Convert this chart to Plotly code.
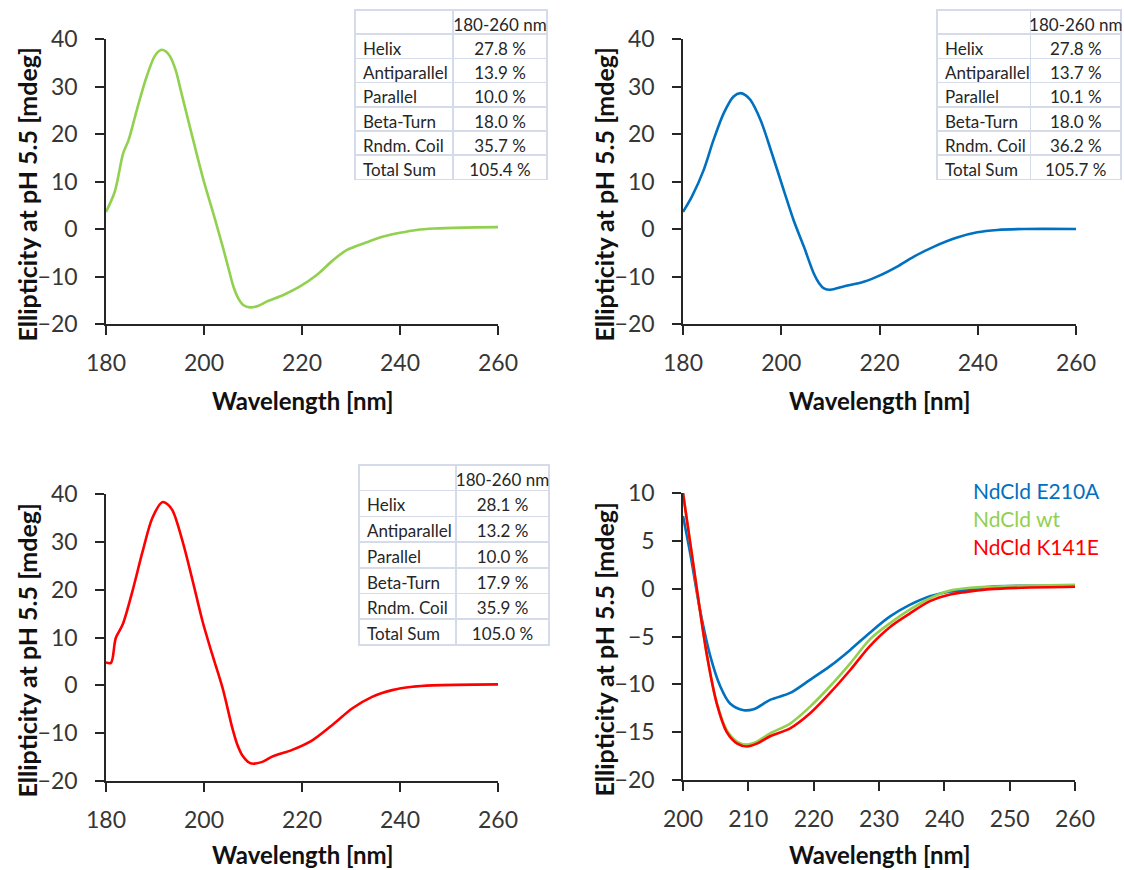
import plotly.graph_objects as go

# ---------------- data ----------------
# Panel 1: NdCld wt (green), 180-260 nm
wl_wt_full = [180, 181.8, 183.5, 184.6, 186.3, 188.3, 190, 191.2, 192.2, 193.1, 194.2, 195.4,
              197.8, 199.9, 201.9, 204, 205, 206, 207, 208, 209.4, 211, 212.8, 216.2, 219.6,
              223, 226.4, 229.2, 233.2, 236.6, 240, 243.4, 247, 253, 260]
cd_wt_full = [3.6, 7.9, 15.9, 18.7, 25.1, 32.1, 36.5, 37.7, 37.4, 36.3, 33.5, 28.6,
              18.7, 10.3, 3.3, -4.4, -8.3, -12.1, -14.6, -16.0, -16.5, -16.2, -15.3, -13.9, -12.1,
              -9.7, -6.5, -4.4, -2.8, -1.6, -0.8, -0.2, 0.1, 0.3, 0.4]

# Panel 2: NdCld E210A (blue), 180-260 nm
wl_e210a_full = [180, 181.8, 184.2, 186.2, 188.3, 190.3, 191.7, 192.7, 193.7, 195.8, 198.1, 200.5,
                 202.5, 204.6, 206.6, 207.7, 208.7, 210, 212.7, 216.8, 220.2, 223.6, 227, 231.1,
                 235.8, 239.9, 244, 249.4, 260]
cd_e210a_full = [3.6, 6.8, 12.4, 18.7, 24.4, 27.9, 28.6, 28.2, 27.2, 22.9, 15.9, 8.2,
                 1.9, -3.7, -9.3, -11.4, -12.5, -12.8, -12.1, -11.1, -9.7, -7.9, -5.8, -3.7,
                 -1.8, -0.7, -0.2, 0.0, 0.0]

# Panel 3: NdCld K141E (red), 180-260 nm
wl_k141e_full = [180, 181, 182, 183.4, 185.4, 187.5, 189.5, 191.5, 192.5, 193.6, 195.6, 197.7,
                 199.7, 201.7, 203.8, 205.8, 206.8, 207.8, 209.5, 211.9, 213.9, 218, 222.1, 226.2,
                 230.3, 234.3, 238.4, 242.5, 246.6, 260]
cd_k141e_full = [4.8, 4.7, 9.9, 12.7, 19.7, 28.1, 35.1, 38.3, 37.9, 36.5, 30.2, 21.8,
                 13.4, 6.4, -0.6, -9.0, -12.4, -14.6, -16.3, -16.0, -14.9, -13.5, -11.5, -8.3,
                 -4.8, -2.4, -1.0, -0.3, 0.0, 0.2]

# Panel 4: overlay 200-260 nm
wl_e210a_zoom = [200, 201.1, 202.6, 204.2, 205.7, 207.2, 209.3, 210.8, 213.4, 216.4, 219.5,
                 222.5, 225.6, 228.6, 231.7, 234.7, 237.8, 240.9, 243.9, 247, 252, 260]
cd_e210a_zoom = [7.6, 3.7, -2.2, -7.1, -10.2, -12.0, -12.7, -12.6, -11.6, -10.9, -9.5,
                 -8.1, -6.4, -4.6, -2.9, -1.7, -0.8, -0.3, -0.1, 0.2, 0.3, 0.3]
wl_wt_zoom = [200, 201.1, 203.7, 205.2, 206.7, 208.3, 209.8, 211.3, 213.4, 216.4, 219.5,
              222.5, 225.6, 228.6, 231.7, 234.7, 237.8, 240.9, 244, 247, 252, 260]
cd_wt_zoom = [10, 4.8, -7.1, -12.0, -14.8, -16.0, -16.3, -16.0, -15.1, -14.1, -12.3,
              -10.2, -7.8, -5.3, -3.6, -2.2, -1.0, -0.2, 0.1, 0.2, 0.3, 0.4]
wl_k141e_zoom = [200, 201.1, 203.7, 205.2, 206.7, 208.3, 209.8, 211.3, 213.4, 216.4, 219.5,
                 222.5, 225.6, 228.6, 231.7, 234.7, 237.8, 240.9, 243.9, 247, 252, 260]
cd_k141e_zoom = [10, 4.8, -7.1, -12.1, -15.0, -16.2, -16.5, -16.2, -15.4, -14.6, -13.0,
                 -10.9, -8.5, -6.0, -4.0, -2.6, -1.3, -0.6, -0.3, -0.05, 0.1, 0.2]

# Secondary-structure tables
struct_labels = ["Helix", "Antiparallel", "Parallel", "Beta-Turn", "Rndm.\u00a0Coil", "Total\u00a0Sum"]
table_header = "180-260\u00a0nm"
pct_wt = ["27.8\u00a0%", "13.9\u00a0%", "10.0\u00a0%", "18.0\u00a0%", "35.7\u00a0%", "105.4\u00a0%"]
pct_e210a = ["27.8\u00a0%", "13.7\u00a0%", "10.1\u00a0%", "18.0\u00a0%", "36.2\u00a0%", "105.7\u00a0%"]
pct_k141e = ["28.1\u00a0%", "13.2\u00a0%", "10.0\u00a0%", "17.9\u00a0%", "35.9\u00a0%", "105.0\u00a0%"]

series_names = ["NdCld E210A", "NdCld wt", "NdCld K141E"]

# ---------------- styling ----------------
W, H = 1124, 870
BLUE, GREEN, RED = "#0070C0", "#92D050", "#FF0000"
FONT = "Lato"
AX_COL = "#262626"
TICK_COL = "#363636"

def px_x(p):
    return p / W

def px_y(p):
    return 1 - p / H

fig = go.Figure()

def line(x, y, color, xa, ya, name):
    fig.add_trace(go.Scatter(x=x, y=y, mode="lines", name=name,
                             line=dict(color=color, width=2.6, shape="spline", smoothing=0.9),
                             xaxis=xa, yaxis=ya, showlegend=False, hoverinfo="x+y"))

line(wl_wt_full, cd_wt_full, GREEN, "x", "y", "NdCld wt")
line(wl_e210a_full, cd_e210a_full, BLUE, "x2", "y2", "NdCld E210A")
line(wl_k141e_full, cd_k141e_full, RED, "x3", "y3", "NdCld K141E")
line(wl_e210a_zoom, cd_e210a_zoom, BLUE, "x4", "y4", "NdCld E210A")
line(wl_wt_zoom, cd_wt_zoom, GREEN, "x4", "y4", "NdCld wt")
line(wl_k141e_zoom, cd_k141e_zoom, RED, "x4", "y4", "NdCld K141E")

# panel geometry in pixels: (left, right, top, bottom, x-title offset)
panels = [
    (106, 498, 39, 324, 76),
    (683, 1076, 39, 324, 76),
    (106, 498, 494, 781, 73),
    (683, 1075, 493, 780, 74),
]

def xaxis(dom, anchor, rng, dtick):
    return dict(domain=dom, anchor=anchor, range=rng, dtick=dtick, tick0=rng[0],
                showline=True, linecolor=AX_COL, linewidth=1.6, ticks="outside",
                ticklen=9, tickwidth=1.6, tickcolor=AX_COL, showgrid=False, zeroline=False,
                tickfont=dict(family=FONT, size=23, color=TICK_COL), ticklabelstandoff=9,
                automargin=False)

def yaxis(dom, anchor, rng, dtick):
    return dict(domain=dom, anchor=anchor, range=rng, dtick=dtick, tick0=rng[0],
                showline=True, linecolor=AX_COL, linewidth=1.6, ticks="outside",
                ticklen=9, tickwidth=1.6, tickcolor=AX_COL, showgrid=False, zeroline=False,
                tickfont=dict(family=FONT, size=23, color=TICK_COL), ticklabelstandoff=13,
                automargin=False)

xr = [[180, 260], [180, 260], [180, 260], [200, 260]]
xd = [20, 20, 20, 10]
yr = [[-20, 40], [-20, 40], [-20, 40], [-20, 10]]
yd = [10, 10, 10, 5]

layout = dict(width=W, height=H, margin=dict(l=0, r=0, t=0, b=0),
              paper_bgcolor="white", plot_bgcolor="white", showlegend=False,
              font=dict(family=FONT))
annotations = []
for i, (l, r, t, b, off) in enumerate(panels):
    k = "" if i == 0 else str(i + 1)
    layout["xaxis" + k] = xaxis([px_x(l), px_x(r)], "y" + k, xr[i], xd[i])
    layout["yaxis" + k] = yaxis([px_y(b), px_y(t)], "x" + k, yr[i], yd[i])
    cx = (l + r) / 2
    annotations.append(dict(text="<b>Wavelength [nm]</b>", xref="paper", yref="paper",
                            x=px_x(cx), y=px_y(b + off), xanchor="center", yanchor="middle",
                            showarrow=False, font=dict(family=FONT, size=24, color="#111")))
    annotations.append(dict(text="<b>Ellipticity at pH 5.5 [mdeg]</b>", xref="paper",
                            yref="paper", x=px_x(l - 80), y=px_y((t + b) / 2 + 13),
                            xanchor="center", yanchor="middle", textangle=-90,
                            showarrow=False, font=dict(family=FONT, size=25, color="#111")))

legend_y = [490, 518, 546]
for name, col, yy in zip(series_names, [BLUE, GREEN, RED], legend_y):
    annotations.append(dict(text=name, xref="paper", yref="paper", x=px_x(971), y=px_y(yy),
                            xanchor="left", yanchor="middle", showarrow=False,
                            font=dict(family=FONT, size=21, color=col)))
layout["annotations"] = annotations
fig.update_layout(**layout)

# tables: (left, right, top, split, row height, values)
tables = [
    (355, 547, 10, 453, 24.2, pct_wt),
    (937, 1122, 10, 1031, 24.2, pct_e210a),
    (359, 549, 465, 456, 25.7, pct_k141e),
]
for (l, r, t, split, rh, vals) in tables:
    bottom = t + rh * 7 + 8
    fig.add_trace(go.Table(
        domain=dict(x=[px_x(l), px_x(r)], y=[px_y(bottom), px_y(t)]),
        columnwidth=[split - l, r - split],
        header=dict(values=["", table_header], height=rh,
                    align=["left", "center"], fill_color="white",
                    line=dict(color="#d5dbe8", width=1.5),
                    font=dict(family=FONT, size=17, color="#262626")),
        cells=dict(values=[struct_labels, vals], height=rh,
                   align=["left", "center"], fill_color="white",
                   line=dict(color="#d5dbe8", width=1.5),
                   font=dict(family=FONT, size=17, color="#262626")),
    ))

fig.write_html("out.html")
